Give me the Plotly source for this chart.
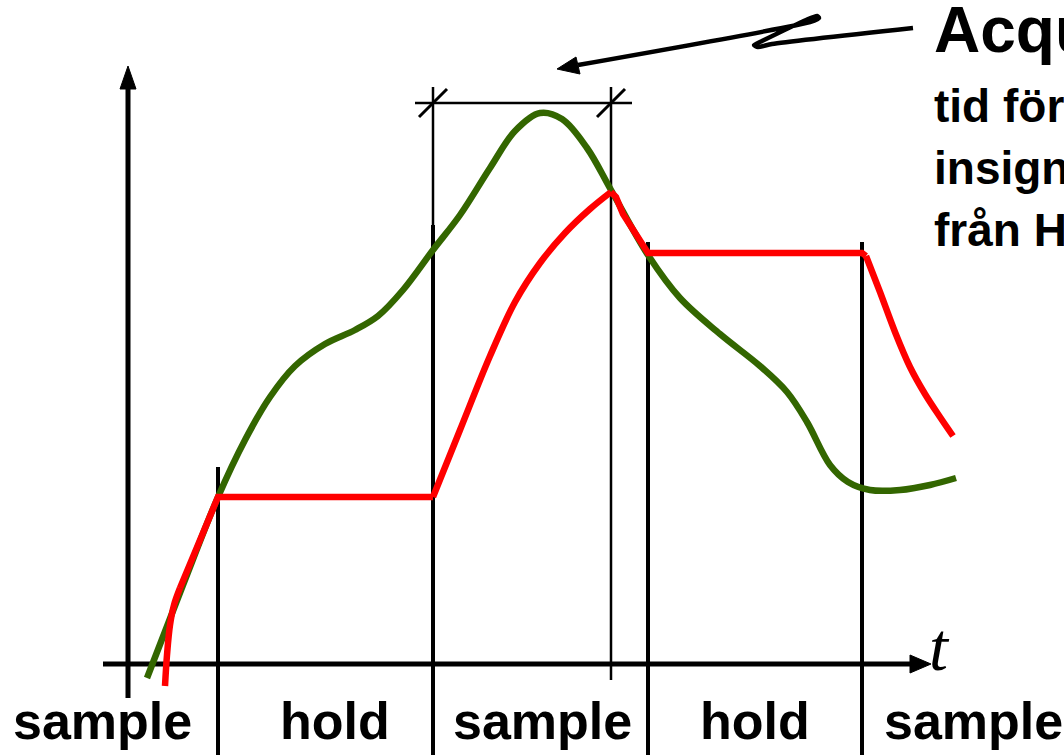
import plotly.graph_objects as go

# ---------------- data (diagram units: x to the right, y downward) ----------------
green_x = [147, 183, 218, 245, 270, 295, 325, 355, 378, 403, 433, 460, 490, 515, 540,
           562, 587, 611, 648, 680, 720, 760, 787, 807, 830, 848, 870, 900, 930, 956]
green_y = [678, 585, 497, 440, 397, 366, 344, 330, 316, 290, 250, 215, 168, 131, 113,
           119, 148, 190, 255, 298, 334, 366, 392, 422, 465, 482, 490, 490, 485, 478]

# red (sample & hold output), split in segments: (x, y, shape)
red_start_x = [165, 167, 170, 174, 180]
red_start_y = [686, 655, 625, 605, 588]
red_hold_x = [180, 218, 433]
red_hold_y = [588, 497, 497]
red_rise_x = [433, 460, 490, 515, 540, 565, 590, 611]
red_rise_y = [497, 430, 356, 302, 263, 233, 209, 192]
red_mid_x = [611, 616, 623, 648, 862, 866]
red_mid_y = [192, 197, 214, 253, 253, 256]
red_tail_x = [866, 880, 895, 910, 925, 940, 953]
red_tail_y = [256, 292, 332, 367, 394, 417, 436]

phase_bound_x = [218, 433, 648, 862]
phase_bound_top = [467, 225, 242, 242]
acq_x = [433, 611]
acq_top = 87
acq_bottom = [225, 680]
acq_bar_y = 103
acq_bar_x = [415, 632]

labels = ["sample", "hold", "sample", "hold", "sample"]
label_x = [102, 335, 542, 755, 882]
label_anchor = ["center", "center", "center", "center", "left"]

note_lines = ["tid för att följa", "insignalen efter", "från Hold till Sample"]
note_title = "Acquisition time"

zig_x = [913, 772, 758, 754, 762, 806, 817, 819, 810, 578]
zig_y = [28, 44, 47, 45, 41, 20, 16, 18, 22, 65]

x_axis = dict(x0=103, x1=914, y=664)
y_axis = dict(x=128, y0=698, y1=86)

BLACK = "#000000"
GREEN = "#336600"
RED = "#ff0000"

fig = go.Figure()


def line(xs, ys, color=BLACK, width=4, shape="linear", smoothing=1.0):
    fig.add_trace(go.Scatter(x=xs, y=ys, mode="lines",
                             line=dict(color=color, width=width, shape=shape,
                                       smoothing=smoothing),
                             hoverinfo="skip", showlegend=False))


def tri(xs, ys):
    fig.add_trace(go.Scatter(x=xs + [xs[0]], y=ys + [ys[0]], mode="lines",
                             fill="toself", fillcolor=BLACK,
                             line=dict(color=BLACK, width=1),
                             hoverinfo="skip", showlegend=False))


# axes
line([x_axis["x0"], x_axis["x1"]], [x_axis["y"], x_axis["y"]], width=5)
tri([931, 910, 910], [664, 655, 673])
line([y_axis["x"], y_axis["x"]], [y_axis["y0"], y_axis["y1"]], width=5)
tri([128, 120, 136], [66, 89, 89])

# phase boundaries
for bx, bt in zip(phase_bound_x, phase_bound_top):
    line([bx, bx], [bt, 755], width=4)

# acquisition marker
for ax_, ab in zip(acq_x, acq_bottom):
    line([ax_, ax_], [acq_top, ab], width=2.5)
    line([ax_ - 14, ax_ + 14], [acq_bar_y + 14, acq_bar_y - 14], width=3)
line(acq_bar_x, [acq_bar_y, acq_bar_y], width=2.5)

# signals
line(green_x, green_y, color=GREEN, width=6.5, shape="spline")
line(red_start_x, red_start_y, color=RED, width=6.5, shape="spline")
line(red_hold_x, red_hold_y, color=RED, width=6.5)
line(red_rise_x, red_rise_y, color=RED, width=6.5, shape="spline")
line(red_mid_x, red_mid_y, color=RED, width=6.5)
line(red_tail_x, red_tail_y, color=RED, width=6.5, shape="spline")

# zig-zag pointer arrow
line(zig_x, zig_y, width=4.5, shape="spline", smoothing=0.6)
tri([557, 576, 580], [69, 57, 74])

annotations = []
for txt, lx, anc in zip(labels, label_x, label_anchor):
    annotations.append(dict(x=lx, y=721, xref="x", yref="y", text=f"<b>{txt}</b>",
                            showarrow=False, xanchor=anc, yanchor="middle",
                            font=dict(family="Liberation Sans, Arial", size=52, color=BLACK)))
annotations.append(dict(x=927, y=647, xref="x", yref="y", text="<i>t</i>",
                        showarrow=False, xanchor="left", yanchor="middle",
                        font=dict(family="Liberation Serif, Times New Roman", size=68, color=BLACK)))
annotations.append(dict(x=932, y=30, xref="x", yref="y", text=f"<b>{note_title}</b>",
                        showarrow=False, xanchor="left", yanchor="middle",
                        font=dict(family="Liberation Sans, Arial", size=64, color=BLACK)))
for i, t in enumerate(note_lines):
    annotations.append(dict(x=932, y=106 + 62 * i, xref="x", yref="y", text=f"<b>{t}</b>",
                            showarrow=False, xanchor="left", yanchor="middle",
                            font=dict(family="Liberation Sans, Arial", size=46, color=BLACK)))

fig.update_layout(
    width=1064, height=755, autosize=False,
    margin=dict(l=0, r=0, t=0, b=0, pad=0),
    paper_bgcolor="white", plot_bgcolor="white",
    xaxis=dict(range=[0, 1064], visible=False, fixedrange=True),
    yaxis=dict(range=[755, 0], visible=False, fixedrange=True),
    annotations=annotations,
)

fig.write_html("out.html", config={"displayModeBar": False},
               post_script="document.body.style.margin='0';")
